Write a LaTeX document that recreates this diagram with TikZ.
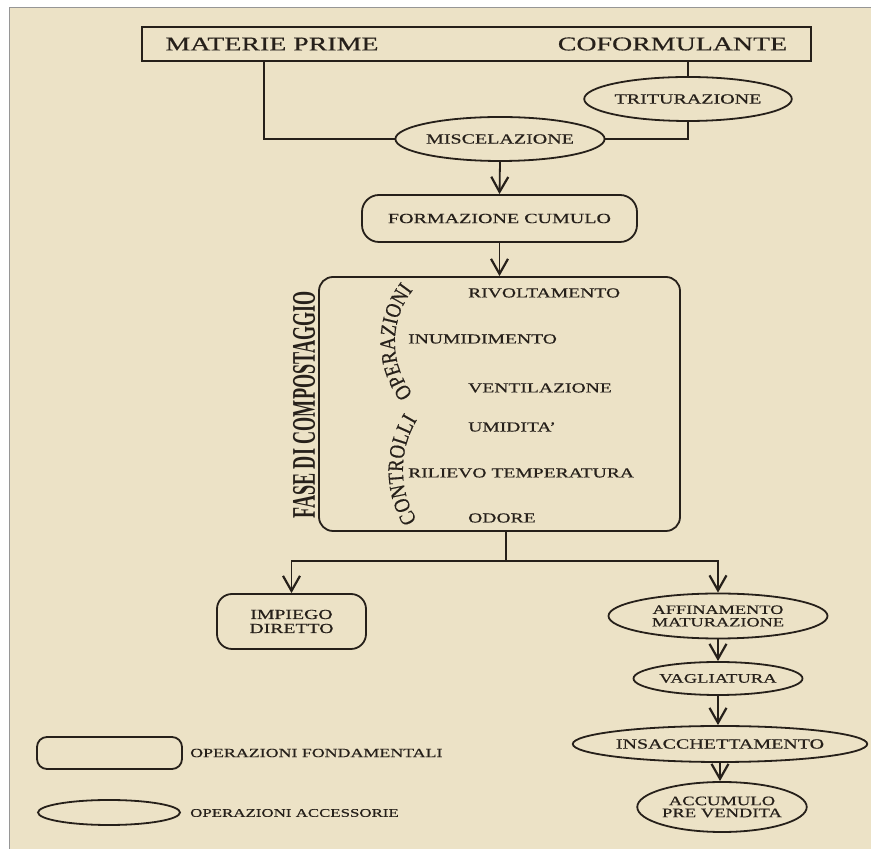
\documentclass[tikz,border=0pt]{standalone}
\usepackage{fontspec}
\setmainfont{Liberation Serif}[FakeStretch=1.43,FakeBold=0.5]
\newfontfamily\arcfont{Liberation Serif}[FakeStretch=0.85,FakeBold=0.5]
\newfontfamily\fasefont{Liberation Serif}[FakeStretch=0.55]
\usepackage{xcolor}
\usepackage{tikz}
\usetikzlibrary{shapes.geometric,arrows.meta,decorations.text,positioning}
\definecolor{ink}{RGB}{38,32,26}
\definecolor{paper}{RGB}{236,226,198}
\definecolor{edge}{RGB}{150,150,150}

\begin{document}
\begin{tikzpicture}[x=1pt,y=1pt,
	txt/.style={inner sep=0pt, text=ink},
	quadro/.style={draw=ink, line width=1.8pt, inner sep=0pt, text=ink, align=center},
	tondo/.style={quadro, rounded corners=15pt},
	ovale/.style={quadro, ellipse},
	linea/.style={draw=ink, line width=1.8pt},
	freccia/.style={linea, -{Straight Barb[length=15pt,width=17pt,line width=2.2pt]}}]
	\useasboundingbox (0,0) rectangle (871,849);
	% fondo
	\fill[white] (0,0) rectangle (871,849);
	\fill[paper] (9,0) rectangle (871,841);
	\draw[edge, line width=1pt] (9,0) -- (9,841) -- (871,841);

	% ingresso
	\node[quadro, minimum width=669pt, minimum height=34pt] (input) at (476.5,805) {};
	\node[txt, font=\fontsize{19.5}{20}\selectfont] (mp) at (272,805) {MATERIE PRIME};
	\node[txt, font=\fontsize{19.5}{20}\selectfont] (cof) at (672.5,805) {COFORMULANTE};
	\coordinate (mpdown) at (264,788);
	\coordinate (cofdown) at (688,788);
	\node[ovale, minimum width=190pt, minimum height=44pt, font=\fontsize{14}{14}\selectfont] (trit) at (688,750) {TRITURAZIONE};
	\node[ovale, minimum width=190pt, minimum height=44pt, font=\fontsize{14}{14}\selectfont] (misc) at (500,710) {MISCELAZIONE};
	\draw[linea] (mpdown) |- (misc.west);
	\draw[linea] (cofdown) -- (trit.north);
	\draw[linea] (trit.south) |- (misc.east);

	\node[tondo, rounded corners=17pt, minimum width=275pt, minimum height=47pt, font=\fontsize{14}{14}\selectfont] (form) at (499.5,630.5) {FORMAZIONE CUMULO};
	\draw[freccia] (misc.south) -- (form.north);

	% fase di compostaggio
	\node[tondo, rounded corners=14pt, minimum width=361pt, minimum height=254pt] (fase) at (499.5,445) {};
	\draw[freccia] (form.south) -- (fase.north);
	\node[txt, rotate=90, font=\fasefont\bfseries\fontsize{33}{33}\selectfont] (fasetxt) at (304,444) {FASE DI COMPOSTAGGIO};
	\coordinate (opc) at (479,507);
	\coordinate (ctc) at (500,379);
	\path[decorate, decoration={text along path, text align=center, text color=ink,
		text={|\arcfont\fontsize{22}{22}\selectfont|OPERAZIONI}}]
		([shift={(240:84)}]opc) arc[start angle=240, end angle=120, radius=84];
	\path[decorate, decoration={text along path, text align=center, text color=ink,
		text={|\arcfont\fontsize{22}{22}\selectfont|CONTROLLI}}]
		([shift={(250:97)}]ctc) arc[start angle=250, end angle=110, radius=97];
	\node[txt, anchor=west, font=\fontsize{13.7}{14}\selectfont] (riv) at (468,556) {RIVOLTAMENTO};
	\node[txt, anchor=west, font=\fontsize{13.7}{14}\selectfont] (inum) at (408,510) {INUMIDIMENTO};
	\node[txt, anchor=west, font=\fontsize{13.7}{14}\selectfont] (vent) at (468,461) {VENTILAZIONE};
	\node[txt, anchor=west, font=\fontsize{13.7}{14}\selectfont] (umid) at (468,422) {UMIDITA'};
	\node[txt, anchor=west, font=\fontsize{13.7}{14}\selectfont] (temp) at (408,376) {RILIEVO TEMPERATURA};
	\node[txt, anchor=west, font=\fontsize{13.7}{14}\selectfont] (odore) at (468,331) {ODORE};

	% uscite
	\coordinate (split) at (506,288);
	\node[tondo, minimum width=149pt, minimum height=55pt, font=\fontsize{13.8}{14}\selectfont] (impiego) at (291.5,227.5) {IMPIEGO\\DIRETTO};
	\node[ovale, minimum width=219pt, minimum height=45pt, font=\fontsize{12.8}{12.5}\selectfont] (affin) at (718,233) {AFFINAMENTO\\MATURAZIONE};
	\node[ovale, minimum width=169pt, minimum height=33pt, font=\fontsize{13}{13}\selectfont] (vagl) at (718,170.5) {VAGLIATURA};
	\node[ovale, minimum width=246pt, minimum height=36pt, font=\fontsize{14}{14}\selectfont] (insac) at (720,105) {INSACCHETTAMENTO};
	\node[ovale, minimum width=169pt, minimum height=50pt, font=\fontsize{13}{12}\selectfont] (accum) at (722,42) {ACCUMULO\\PRE VENDITA};
	\draw[linea] (fase.south -| split) -- (split);
	\draw[freccia] (split) -| (impiego.north);
	\draw[freccia] (split) -| (affin.north);
	\draw[freccia] (affin.south) -- (vagl.north);
	\draw[freccia] (vagl.south) -- (vagl.south |- insac.north);
	\draw[freccia] (insac.south) -- (insac.south |- accum.north);

	% legenda
	\node[tondo, rounded corners=10pt, minimum width=145pt, minimum height=32pt] (legfond) at (109.5,96) {};
	\node[ovale, minimum width=142pt, minimum height=25pt] (legacc) at (109,36.5) {};
	\node[txt, anchor=west, font=\fontsize{12.5}{13}\selectfont] (legfondtxt) at (190,96) {OPERAZIONI FONDAMENTALI};
	\node[txt, anchor=west, font=\fontsize{11.8}{12}\selectfont] (legacctxt) at (190,36) {OPERAZIONI ACCESSORIE};
\end{tikzpicture}
\end{document}
